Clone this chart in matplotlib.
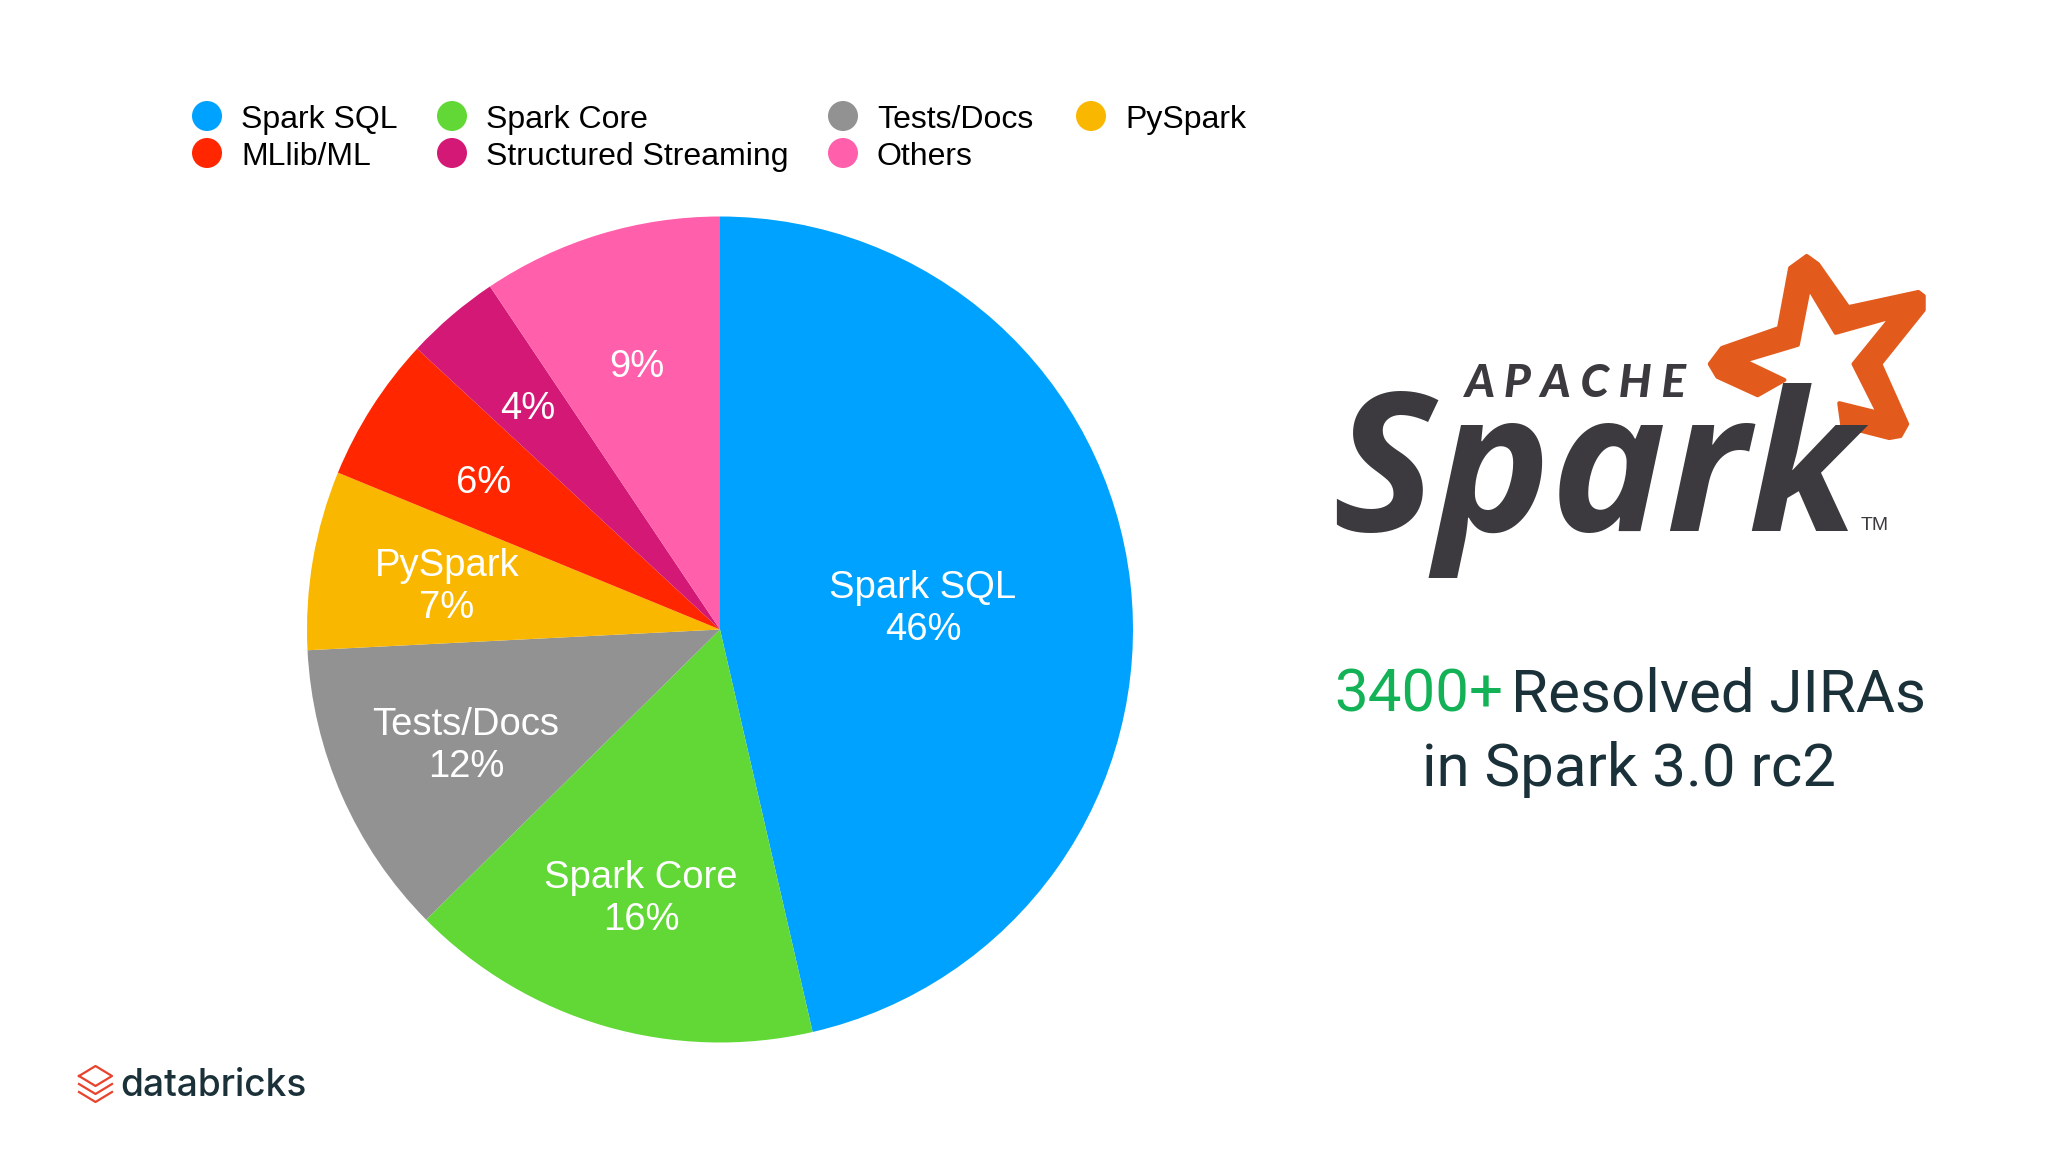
import matplotlib
matplotlib.use("Agg")
import matplotlib.pyplot as plt
from matplotlib.patches import Circle, Polygon

categories = ["Spark SQL", "Spark Core", "Tests/Docs", "PySpark", "MLlib/ML", "Structured Streaming", "Others"]
values = [46.4, 16.2, 11.6, 7.0, 5.7, 3.7, 9.4]
shown_pct = ["46%", "16%", "12%", "7%", "6%", "4%", "9%"]
colors = ["#00A2FF", "#61D836", "#929292", "#FAB700", "#FF2600", "#D31876", "#FF5FAB"]
label_xy = [(923, 609), (641, 899), (466, 746), (447, 587), (484, 483), (528, 409), (637, 367)]
named_in_pie = [True, True, True, True, False, False, False]
legend_order = [("Spark SQL", 207, 116), ("MLlib/ML", 207, 153),
                ("Spark Core", 452, 116), ("Structured Streaming", 452, 153),
                ("Tests/Docs", 843, 116), ("Others", 843, 153),
                ("PySpark", 1091, 116)]

W, H = 2048, 1152
fig = plt.figure(figsize=(W / 100, H / 100), dpi=100, facecolor="white")

cx, cy, r = 720, 629.5, 413
pax = fig.add_axes([(cx - r) / W, 1 - (cy + r) / H, 2 * r / W, 2 * r / H])
pax.pie(values, colors=colors, startangle=90, counterclock=False, radius=1,
        wedgeprops=dict(linewidth=0))
pax.set_xlim(-1, 1)
pax.set_ylim(-1, 1)
pax.axis("off")

ax = fig.add_axes([0, 0, 1, 1], facecolor="none")
ax.set_xlim(0, W)
ax.set_ylim(H, 0)
ax.axis("off")

sans = "Liberation Sans"
for name, pct, (x, y), named in zip(categories, shown_pct, label_xy, named_in_pie):
    txt = f"{name}\n{pct}" if named else pct
    ax.text(x, y, txt, color="white", fontsize=27.5, family=sans, ha="center", va="center",
            linespacing=1.23)

col = dict(zip(categories, colors))
for name, x, y in legend_order:
    ax.add_patch(Circle((x, y), 15, color=col[name], lw=0))
    ax.text(x + 34, y + 4, name, color="black", fontsize=23, family=sans, ha="left", va="center")

# Apache Spark logo
def zx(v): return 1300 + v / 2.24
def zy(v): return 220 + v / 2.5
star = [(1135, 90), (1160, 110), (1228, 218), (1385, 180), (1397, 190), (1397, 225), (1300, 360),
        (1360, 510), (1345, 540), (1320, 545), (1215, 515), (1208, 458), (1295, 482), (1240, 360),
        (1325, 243), (1200, 282), (1140, 170), (1115, 312), (995, 352), (1085, 400), (1025, 438),
        (935, 392), (918, 360), (945, 320), (1073, 270), (1098, 120)]
ax.add_patch(Polygon([(zx(a), zy(b)) for a, b in star], closed=True, facecolor="#E25A1C",
                     edgecolor="#E25A1C", lw=3, joinstyle="round"))
ax.text(1332, 531, "Spark", color="#3C3A3E", fontsize=140, family="Open Sans", weight="bold", style="italic",
        ha="left", va="baseline")
ax.text(1465, 397, "A P A C H E", color="#3C3A3E", fontsize=33, family="Lato", weight="black", style="italic",
        ha="left", va="baseline")
ax.text(1861, 530, "TM", color="#3C3A3E", fontsize=14, family=sans, ha="left", va="baseline")

# Headline
head = "Roboto"
ax.text(1334, 712, "3400+", color="#14B257", fontsize=43.2, family=head, ha="left", va="baseline")
ax.text(1511, 712, "Resolved JIRAs", color="#1B3139", fontsize=43.2, family=head, ha="left", va="baseline")
ax.text(1629, 786, "in Spark 3.0 rc2", color="#1B3139", fontsize=43.2, family=head, ha="center", va="baseline")

# databricks logo
ax.plot([79, 95.5, 112, 95.5, 79], [1076, 1066, 1076, 1086, 1076], color="#E8432D", lw=1.6)
for off in (8, 16):
    ax.plot([79, 95.5, 112], [1076 + off, 1086 + off, 1076 + off], color="#E8432D", lw=1.6)
ax.text(120, 1096, "databricks", color="#1B3139", fontsize=26.7, family="Inter", weight="medium", ha="left", va="baseline")

fig.savefig("out.png", dpi=100)
